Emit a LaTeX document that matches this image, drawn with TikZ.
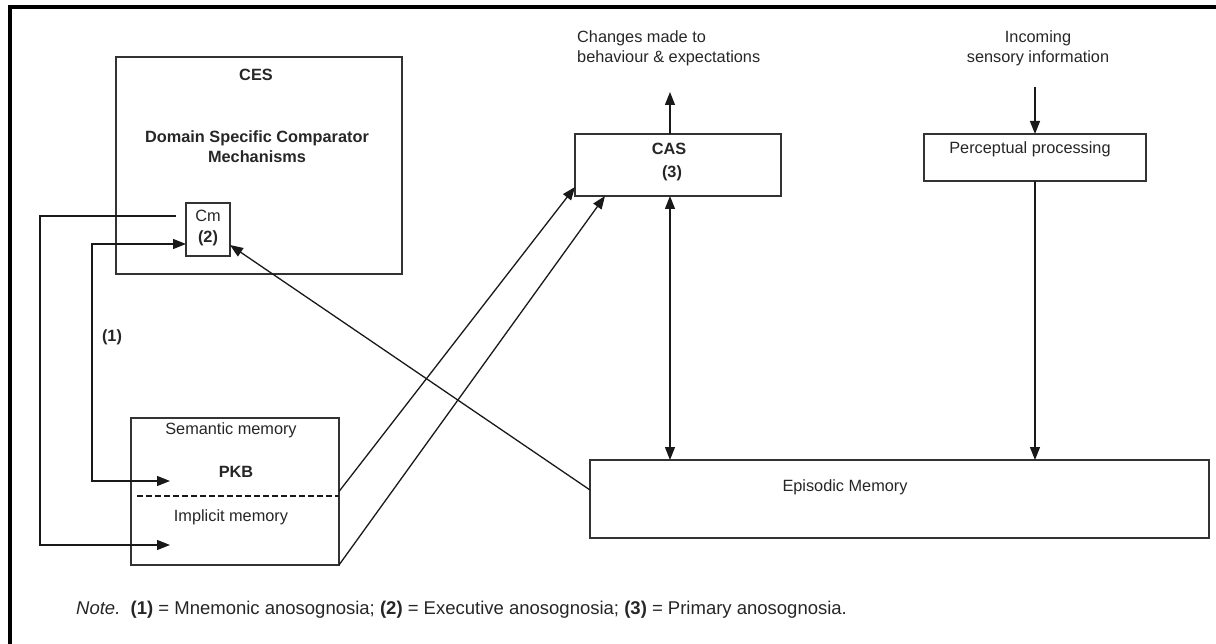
\documentclass[tikz,border=0pt]{standalone}
\usepackage{fontspec}
\setmainfont{Liberation Sans}
\usetikzlibrary{arrows.meta}
\begin{document}
\begin{tikzpicture}[x=1pt,y=-1pt,
  box/.style={draw=black!80,line width=1.4pt,inner sep=0pt,outer sep=0pt},
  conn/.style={draw=black!90,line width=1.3pt},
  arr/.style={conn,-{Triangle[length=13pt,width=10pt]}},
  barr/.style={conn,{Triangle[length=13pt,width=10pt]}-{Triangle[length=13pt,width=10pt]}},
  txt/.style={inner sep=0pt,text=black!85,font=\fontsize{16.3}{20}\selectfont},
  btxt/.style={txt,font=\fontsize{16.3}{20}\selectfont\bfseries}]
\useasboundingbox (0,0) rectangle (1216,644);
% frame
\draw[line width=3.5pt] (10,644) -- (10,7) -- (1216,7);
% boxes
\node[box,minimum width=286pt,minimum height=217pt] (ces) at (259,165.5) {};
\node[box,minimum width=44pt,minimum height=53pt] (Cm) at (208,229.5) {};
\node[box,minimum width=206pt,minimum height=62pt] (cas) at (678,165) {};
\node[box,minimum width=222pt,minimum height=47pt] (perc) at (1035,157.5) {};
\node[box,minimum width=208pt,minimum height=147pt] (sem) at (235,491.5) {};
\node[box,minimum width=619pt,minimum height=78pt] (epi) at (899.5,499) {};
% texts
\node[btxt] (cestitle) at (256,75) {CES};
\node[btxt,align=center] (dscm) at (257,147) {Domain Specific Comparator\\Mechanisms};
\node[txt] (cmt) at (208,216) {Cm};
\node[btxt] (cm2) at (208,238) {(2)};
\node[btxt] (castitle) at (669,149) {CAS};
\node[btxt] (cas3) at (672,173) {(3)};
\node[txt] (perct) at (1030,149) {Perceptual processing};
\node[txt] (epit) at (845,487) {Episodic Memory};
\node[txt] (semt) at (231,430) {Semantic memory};
\node[btxt] (pkbt) at (236,472) {PKB};
\node[txt] (impt) at (231,517) {Implicit memory};
\node[btxt] (lab1) at (112,337) {(1)};
\node[txt,align=left,anchor=west] (chg) at (577,48) {Changes made to\\behaviour \& expectations};
\node[txt,align=center] (incoming) at (1038,48) {Incoming\\sensory information};
\node[txt,anchor=west,font=\fontsize{18.5}{20}\selectfont] (note) at (76,610)
  {\textit{Note.}\ \ \textbf{(1)} = Mnemonic anosognosia; \textbf{(2)} = Executive anosognosia; \textbf{(3)} = Primary anosognosia.};
% coordinates
\coordinate (pkbin) at (170,481);
\coordinate (impin) at (170,545);
\coordinate (cmout) at (176,216);
\coordinate (outc) at (670,92);
\coordinate (inc) at (1035,87);
% dashed divider
\draw[conn,dashed,dash pattern=on 6pt off 3pt] ([xshift=6pt,yshift=-4.5pt]sem.west) -- ([yshift=-4.5pt]sem.east);
% connectors
\draw[arr] (cmout) -| ([xshift=-130pt]impin) -- (impin);
\draw[barr] ([yshift=-14.5pt]Cm.west) -| ([xshift=-78pt]pkbin) -- (pkbin);
\draw[arr] (sem.east) -- ([yshift=9pt]cas.south west);
\draw[arr] (sem.south east) -- ([xshift=30pt]cas.south west);
\draw[arr] ([xshift=-8pt]cas.north) -- (outc);
\draw[barr] ([xshift=-8pt]cas.south) -- ([xshift=-8pt]cas.south |- epi.north);
\draw[arr] ([yshift=9pt]epi.west) -- ([yshift=-15.5pt]Cm.east);
\draw[arr] (inc) -- (inc |- perc.north);
\draw[arr] (perc.south) -- (perc.south |- epi.north);
\end{tikzpicture}
\end{document}
